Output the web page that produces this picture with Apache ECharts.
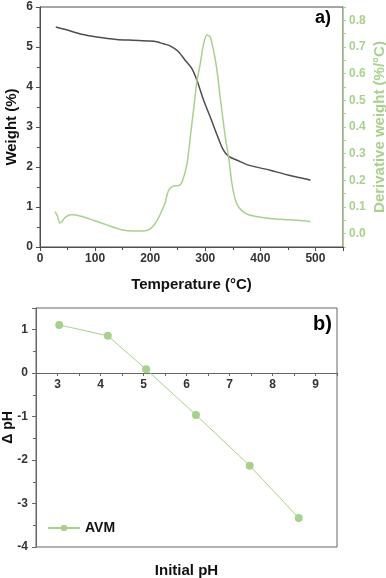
<!DOCTYPE html>
<html><head><meta charset="utf-8">
<script src="https://cdn.jsdelivr.net/npm/echarts@6/dist/echarts.min.js"></script>
<style>html,body{margin:0;padding:0;background:#fff}#c{width:386px;height:578px}</style>
</head><body><div id="c"></div>
<script>
// TGA weight curve
var tempWeight = [28.6, 48, 78, 103, 139, 169, 200, 212, 224, 236, 250, 263.5, 275.7, 284.8, 297, 309, 324, 333, 342, 357.7, 380, 418, 450, 473, 491];
var weightVals = [5.50, 5.43, 5.31, 5.25, 5.19, 5.17, 5.15, 5.13, 5.08, 5.03, 4.90, 4.67, 4.46, 4.17, 3.67, 3.25, 2.71, 2.42, 2.27, 2.17, 2.04, 1.92, 1.80, 1.73, 1.67];
// Derivative curve
var tempDeriv = [27.5, 31.6, 36, 39.4, 45.5, 54.6, 60.7, 72.8, 97, 121, 146, 170, 188, 200, 209, 218, 227, 233, 242.5, 251, 257.5, 266.7, 272.7, 279, 285, 290.9, 297, 303, 309, 315, 321.3, 327, 331.5, 336.4, 342.4, 348.6, 357.7, 376, 406, 443, 461, 479, 491];
var derivVals = [0.083, 0.066, 0.040, 0.045, 0.060, 0.071, 0.071, 0.066, 0.050, 0.033, 0.016, 0.010, 0.010, 0.018, 0.038, 0.072, 0.115, 0.160, 0.179, 0.180, 0.192, 0.261, 0.361, 0.470, 0.574, 0.637, 0.712, 0.745, 0.737, 0.687, 0.612, 0.511, 0.440, 0.361, 0.286, 0.186, 0.110, 0.073, 0.060, 0.053, 0.051, 0.048, 0.045];
// pH drift
var phInitial = [3.04, 4.17, 5.06, 6.22, 7.47, 8.61];
var phDelta = [1.11, 0.86, 0.09, -0.96, -2.13, -3.33];
var seriesName = 'AVM';

var GREEN = '#a9d18e', DARK = '#4d4d4d', FONT = 'Liberation Sans, Arial, sans-serif';
function zip(a, b) { return a.map(function (v, i) { return [v, b[i]]; }); }
var lbl = { color: '#333', fontWeight: 'bold', fontSize: 12, fontFamily: FONT };

var chart = echarts.init(document.getElementById('c'), null, { renderer: 'canvas' });
chart.setOption({
  animation: false,
  backgroundColor: '#fff',
  grid: [
    { left: 40, right: 43, top: 7, bottom: 331, show: true, borderColor: DARK, borderWidth: 1, containLabel: false, outerBoundsMode: 'none' },
    { left: 36, right: 49, top: 308, bottom: 31, show: true, borderColor: '#666', borderWidth: 1, containLabel: false, outerBoundsMode: 'none' }
  ],
  legend: {
    data: [seriesName], left: 42, top: 516, itemWidth: 32, itemHeight: 8,
    textStyle: { fontWeight: 'bold', fontSize: 14, color: '#111', fontFamily: FONT }
  },
  graphic: [
    { type: 'text', left: 315, top: 9, style: { text: 'a)', font: 'bold 18px ' + FONT, fill: '#000' } },
    { type: 'text', left: 313, top: 314, style: { text: 'b)', font: 'bold 20px ' + FONT, fill: '#000' } }
  ],
  xAxis: [
    {
      gridIndex: 0, type: 'value', min: 0, max: 550, interval: 100,
      name: 'Temperature (°C)', nameLocation: 'middle', nameGap: 30, nameMoveOverlap: false,
      nameTextStyle: { fontWeight: 'bold', fontSize: 15, color: '#111', fontFamily: FONT },
      axisLine: { lineStyle: { color: DARK } },
      axisTick: { show: true, length: 4, lineStyle: { color: DARK } },
      minorTick: { show: true, splitNumber: 2, length: 3, lineStyle: { color: DARK } },
      splitLine: { show: false },
      axisLabel: Object.assign({ margin: 6, formatter: function (v) { return v % 100 === 0 ? v : ''; } }, lbl)
    },
    {
      gridIndex: 1, type: 'value', min: 2.5, max: 9.5, interval: 0.5,
      name: 'Initial pH', nameLocation: 'middle', nameGap: 190, nameMoveOverlap: false,
      nameTextStyle: { fontWeight: 'bold', fontSize: 15, color: '#111', fontFamily: FONT },
      axisLine: { onZero: false, lineStyle: { color: '#666' } },
      offset: -174,
      axisTick: { show: true, length: 3, lineStyle: { color: '#666' } },
      splitLine: { show: false },
      axisLabel: Object.assign({ margin: 6, formatter: function (v) { return Math.abs(v - Math.round(v)) < 1e-6 ? Math.round(v) : ''; } }, lbl)
    }
  ],
  yAxis: [
    {
      gridIndex: 0, type: 'value', min: 0, max: 6, interval: 1,
      name: 'Weight (%)', nameLocation: 'middle', nameGap: 21, nameMoveOverlap: false,
      nameTextStyle: { fontWeight: 'bold', fontSize: 15, color: '#111', fontFamily: FONT },
      axisLine: { show: true, lineStyle: { color: DARK } },
      axisTick: { show: true, length: 4, lineStyle: { color: DARK } },
      minorTick: { show: true, splitNumber: 2, length: 3, lineStyle: { color: DARK } },
      splitLine: { show: false },
      axisLabel: Object.assign({ margin: 7 }, lbl)
    },
    {
      gridIndex: 0, type: 'value', position: 'right', min: -0.05, max: 0.85, interval: 0.05,
      name: 'Derivative weight (%/°C)', nameLocation: 'middle', nameGap: 29, nameRotate: 90, nameMoveOverlap: false,
      nameTextStyle: { fontWeight: 'bold', fontSize: 15, color: GREEN, fontFamily: FONT },
      axisLine: { show: true, lineStyle: { color: GREEN } },
      axisTick: { show: true, length: 3, lineStyle: { color: GREEN } },
      splitLine: { show: false },
      axisLabel: {
        margin: 6, color: GREEN, fontWeight: 'bold', fontSize: 12, fontFamily: FONT,
        formatter: function (v) { var k = Math.round(v * 100); return (k % 10 === 0 && k >= 0) ? (k / 100).toFixed(1) : ''; }
      }
    },
    {
      gridIndex: 1, type: 'value', min: -4, max: 1.5, interval: 1,
      name: 'Δ pH', nameLocation: 'middle', nameGap: 21, nameMoveOverlap: false,
      nameTextStyle: { fontWeight: 'bold', fontSize: 14, color: '#111', fontFamily: FONT },
      axisLine: { show: true, lineStyle: { color: '#666' } },
      axisTick: { show: true, length: 4, lineStyle: { color: '#666' } },
      minorTick: { show: true, splitNumber: 2, length: 3, lineStyle: { color: '#666' } },
      splitLine: { show: false },
      axisLabel: Object.assign({ margin: 8, formatter: function (v) { return Math.abs(v - Math.round(v)) < 1e-6 ? Math.round(v) : ''; } }, lbl)
    }
  ],
  series: [
    {
      type: 'line', xAxisIndex: 0, yAxisIndex: 0, data: zip(tempWeight, weightVals),
      smooth: 0.3, showSymbol: false, lineStyle: { color: DARK, width: 1.5 }, itemStyle: { color: DARK }
    },
    {
      type: 'line', xAxisIndex: 0, yAxisIndex: 1, data: zip(tempDeriv, derivVals),
      smooth: 0.3, showSymbol: false, lineStyle: { color: GREEN, width: 1.5 }, itemStyle: { color: GREEN }
    },
    {
      name: seriesName, type: 'line', xAxisIndex: 1, yAxisIndex: 2, data: zip(phInitial, phDelta),
      symbol: 'circle', symbolSize: 8, lineStyle: { color: GREEN, width: 1 }, itemStyle: { color: GREEN }
    }
  ]
});
</script></body></html>
